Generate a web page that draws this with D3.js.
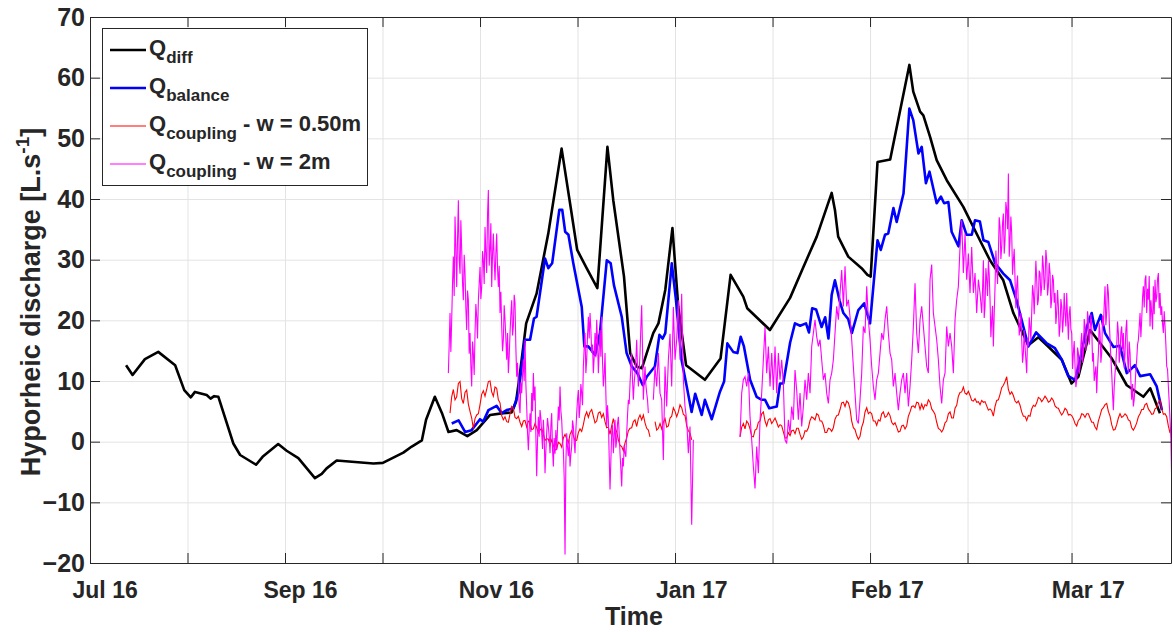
<!DOCTYPE html>
<html lang="en">
<head>
<meta charset="utf-8">
<title>Hyporheic discharge</title>
<script src="https://d3js.org/d3.v7.min.js"></script>
<style>
body { margin: 0; background: #fff; }
svg text { font-family: "Liberation Sans", Arial, sans-serif; font-weight: bold; fill: #262626; }
.grid line { stroke: #e3e3e3; stroke-width: 1; }
.axis path, .axis line { stroke: #262626; stroke-width: 1; }
</style>
</head>
<body>
<div id="chart"></div>
<script>
// time axis: days after the first (Jul 16) tick
var xTicks = [0, 30, 60, 90, 120, 150, 180, 210, 240, 270, 302];
var xLabelAt = [4.5, 64.6, 124.9, 185, 245.2, 307];
var xLabels = ["Jul 16", "Sep 16", "Nov 16", "Jan 17", "Feb 17", "Mar 17"];
var yTicks = [-20, -10, 0, 10, 20, 30, 40, 50, 60, 70];

// Q_diff  (time, value)
var qDiffT = [11.1,13.1,16.9,21.0,26.2,29.0,31.0,32.3,35.9,37.1,38.2,39.5,44.1,46.2,51.1,53.1,57.9,60.5,64.1,69.2,
  71.3,72.8,75.9,87.2,90.1,96.4,99.0,102.1,103.4,106.1,108.3,110.3,112.8,116.1,119.0,123.1,127.2,129.7,131.1,132.3,
  134.2,137.4,141.0,145.1,147.7,149.9,152.8,156.1,159.2,161.0,164.3,166.2,168.2,169.8,171.3,173.3,174.9,177.0,179.2,181.0,
  183.4,189.2,194.0,197.1,201.0,202.2,209.2,215.4,219.5,223.6,228.2,229.2,230.2,233.3,237.4,239.2,240.2,242.3,246.2,252.1,
  253.3,255.4,256.4,258.5,260.5,263.6,268.7,273.8,276.9,281.0,284.1,288.7,291.8,294.4,299.0,302.0,304.1,307.7,314.4,319.0,
  324.1,326.2,329.2];
var qDiffV = [12.6,11.0,13.6,14.8,12.6,8.5,7.3,8.2,7.7,7.1,7.5,7.4,-0.3,-2.2,-3.8,-2.5,-0.4,-1.5,-2.7,-6.0,
  -5.3,-4.4,-3.1,-3.6,-3.5,-1.8,-0.8,0.2,3.6,7.4,4.7,1.6,1.9,0.9,1.9,4.4,4.7,4.8,6.6,11.3,
  19.5,24.4,34.3,48.3,39.3,31.6,28.6,25.3,48.6,39.8,27.2,14.6,12.4,12.1,14.6,17.9,19.5,25.0,35.2,22.2,
  12.6,10.2,13.7,27.5,23.9,22.0,18.4,23.7,28.8,33.8,41.0,38.2,33.8,30.5,28.6,27.5,27.2,46.1,46.5,62.1,
  57.7,54.4,53.8,50.2,46.4,43.1,38.7,33.2,29.9,26.6,21.2,15.9,17.2,15.9,13.5,9.6,10.7,18.4,13.7,9.3,
  7.4,8.8,4.7];

// Q_balance (time, value)
var qBalT = [111.3,113.4,115.4,117.4,120.0,121.0,122.6,125.1,126.7,128.2,130.3,131.8,133.8,135.4,136.6,137.4,140.0,141.0,142.2,144.4,
  145.3,146.2,147.2,148.7,151.3,152.1,153.3,155.4,156.9,159.0,160.2,161.2,163.6,165.1,166.7,168.4,170.1,171.3,173.8,175.2,
  176.2,177.0,179.0,180.3,182.0,183.6,185.1,186.2,188.2,189.2,191.3,193.8,195.1,196.1,197.9,199.2,200.2,201.2,203.1,205.1,
  206.7,207.7,209.0,211.3,212.3,213.3,215.4,216.9,218.5,220.3,221.2,222.2,223.4,225.1,226.2,227.2,228.2,229.2,230.6,231.8,
  233.3,234.4,236.4,238.2,240.0,242.3,243.3,244.6,245.6,247.2,248.2,250.3,252.1,253.3,254.9,255.9,257.2,258.3,260.5,261.8,
  262.8,264.1,265.1,267.2,268.2,269.7,271.3,272.3,273.8,274.9,276.4,278.5,281.0,283.1,285.1,287.2,288.7,291.1,294.4,296.9,
  299.0,301.0,303.1,304.6,306.7,308.2,309.2,311.0,312.3,314.9,316.9,319.0,321.5,323.1,326.2,328.2,329.8];
var qBalV = [3.0,3.5,1.6,1.9,3.7,3.3,5.2,5.9,4.7,5.2,5.5,8.0,16.8,16.8,20.3,20.6,30.2,28.6,29.4,38.2,
  38.2,34.6,34.1,29.4,22.2,15.7,15.7,14.3,17.9,29.9,29.4,25.8,20.6,14.6,12.4,11.3,9.3,10.7,12.4,17.6,
  17.0,17.9,29.4,23.3,13.5,9.1,4.9,7.9,4.4,6.9,3.7,8.2,9.9,16.2,14.8,14.6,17.3,15.7,10.2,7.4,
  6.9,6.9,5.5,5.8,9.6,9.6,16.3,19.5,19.1,19.5,18.0,22.0,21.8,18.9,20.5,17.0,24.2,26.6,23.3,21.2,
  20.2,17.9,21.7,22.8,19.5,33.2,31.6,34.1,34.3,38.5,36.2,40.9,54.9,53.0,47.5,48.6,42.6,44.5,39.3,40.4,
  39.3,39.5,34.6,32.2,36.5,34.1,34.1,36.5,36.3,33.2,32.9,29.4,27.7,26.6,23.3,18.9,15.7,18.0,16.2,15.4,
  13.5,10.8,10.2,13.5,18.9,21.2,18.4,20.9,17.9,15.6,15.8,11.3,12.6,10.8,11.1,9.1,5.2];

// Q_coupling, w = 0.50 m : three logged runs, sampled every ~0.51 day
var redStep = 0.5128;
var redStart = [110.77, 173.85, 200.0];
var redA = [4.7,7.4,8.6,6.9,7.4,9.6,9.9,7.1,6.3,8.1, 8.5,6.2,5.0,3.9,2.2,3.8,4.4,4.6,6.1,7.8,
  8.4,7.5,8.6,9.9,10.0,8.2,7.5,9.0,8.8,6.9, 6.4,4.3,3.6,4.1,3.3,3.2,4.6,5.8,5.5,4.0,
  3.8,4.2,3.2,2.5,3.4,3.5,2.4,3.4,3.2,2.0, 2.1,3.0,2.3,1.4,1.9,2.2,1.2,0.2,0.5,0.4,
  -0.6,0.3,-0.6,-1.4,-1.2,-0.1,-0.3,-0.9,0.6,1.2, 0.5,-0.2,1.2,1.8,1.0,0.1,0.2,1.5,2.1,1.7,
  2.8,4.2,4.9,4.0,4.9,5.3,4.2,3.1,3.4,4.7, 4.9,4.0,4.6,3.3,2.3,2.4,1.2,2.6,3.8,2.4,
  1.6,0.3,-0.6,-0.8,-1.5,-0.2,0.6,1.8,2.2,2.3, 3.3,3.6,2.5,3.8,4.4,3.6,4.4,3.1,2.2,1.9, 0.8];
var redB = [3.3,1.9,2.2,3.0,2.1,3.2,3.8,2.4,2.6,3.9,4.2,5.6,5.0,4.1,4.9,6.1,5.6,4.5,4.3,2.6,1.8,1.4,0.3];
var redC = [0.8,2.4,3.0,2.1,3.4,3.0,2.1,0.9,0.8,1.9, 2.1,3.2,3.4,4.6,4.9,3.4,2.6,3.6,3.8,3.0,
  3.4,3.9,3.2,2.4,2.8,2.6,1.6,0.6,0.6,1.5, 1.0,1.8,1.9,1.3,2.2,2.2,1.2,0.4,0.8,1.8,
  1.7,2.3,3.5,4.1,3.9,3.6,4.6,4.4,3.4,3.4, 2.7,1.5,1.5,2.2,2.1,1.7,2.3,3.7,4.3,4.4,
  5.3,6.4,6.5,5.8,6.7,6.4,5.4,3.4,2.3,2.0, 1.0,0.4,0.9,2.4,3.2,4.9,5.6,4.6,4.9,4.6,
  3.4,3.4,2.7,3.6,3.4,4.6,4.9,4.0,4.2,4.8, 4.3,3.2,2.8,3.1,2.4,1.6,1.7,2.6,2.7,2.1,
  2.6,4.2,4.9,5.8,5.9,5.6,6.5,6.4,5.3,6.2, 5.4,6.1,5.9,6.9,6.5,5.4,5.0,4.5,3.2,2.2,
  2.0,1.6,2.1,3.1,3.4,4.6,4.9,3.9,3.9,5.5, 6.0,7.5,8.1,8.2,9.0,8.0,7.8,8.3,7.6,6.8,
  6.7,7.1,6.5,6.6,6.1,6.8,
  6.5,6.6,5.9,5.2,5.4,5.1,4.2,5.8,6.8,6.9, 7.8,8.9,9.3,9.9,10.7,8.6,7.8,8.2,7.6,6.7,
  6.4,6.7,6.0,4.9,4.2,4.2,3.5,4.3,4.2,5.4, 6.0,5.8,6.4,7.3,7.1,6.6,7.0,7.5,7.1,6.5,
  6.7,7.2,6.8,5.9,5.6,5.5,4.9,4.4,4.8,5.5, 5.2,4.4,4.5,4.3,3.8,3.0,2.6,3.5,3.8,4.6,
  4.5,4.0,4.6,4.6,3.9,3.2,3.2,2.4,2.0,3.4, 4.3,5.3,5.6,6.1,6.3,5.0,4.2,2.8,1.9,2.0,
  2.8,3.9,4.6,4.0,4.2,4.6,4.3,3.6,3.4,2.3, 1.9,2.4,3.1,4.1,4.6,5.3,5.3,6.1,6.3,5.4,
  5.0,4.5,4.6,5.4,5.6,6.5,6.8,5.5,4.5,4.6, 4.1,2.6,1.4];

// Q_coupling, w = 2 m : logged runs (start day, sampling step in days)
var pinkStart = [110.26, 173.33, 200.0, 274.36];
var pinkStep = [0.2564, 0.5128, 0.5128, 0.2564];
var pinkA = [11.3,16.0,21.2,14.8,20.0,26.1,30.5,24.0,37.1,32.0, 25.5,33.4,39.8,30.0,27.7,36.5,31.6,26.1,23.3,30.8,
  27.8,22.0,18.4,24.9,23.3,14.5,17.9,12.5,9.1,16.5, 14.6,11.0,17.9,22.7,20.6,17.0,23.3,26.1,28.8,23.5,
  25.5,31.4,29.9,26.0,35.4,31.0,27.8,37.4,41.5,29.0, 31.6,36.0,25.5,30.8,34.3,29.9,26.6,31.0,34.3,28.6,
  25.5,29.0,21.2,24.7,19.0,14.9,16.8,22.5,20.1,17.0, 13.5,17.9,11.3,14.0,17.9,21.0,23.3,17.5,19.0,24.2,
  22.8,15.5,10.7,13.0,9.1,6.0,4.7,9.8,8.0,11.0, 13.5,10.0,16.8,9.5,5.8,1.5,-1.4,2.0,4.7,1.6,
  8.0,5.0,11.3,6.8,9.1,1.0,-5.7,0.2,4.1,0.8, 5.2,3.9,1.4,-1.2,3.6,0.9,-5.2,-1.5,1.4,3.9,
  2.5,0.8,-1.9,2.6,4.7,-1.3,-4.1,0.6,-2.0,1.9, -1.4,2.2,5.8,3.5,9.1,5.1,3.6,0.3,-1.4,-6.0,
  -18.6,-3.5,1.4,-1.0,-2.4,0.4,-4.1,-2.1,-0.8,3.5, 2.5,-0.1,-1.9,1.8,4.7,7.0,8.5,3.9,5.8,9.5,
  8.0,6.0,12.4,15.5,17.9,11.3,13.5,17.5,20.6,17.0, 21.2,18.5,14.6,16.0,11.3,14.0,17.9,13.9,20.1,16.5,
  11.3,15.0,18.4,14.0,20.6,13.1,9.1,11.0,14.6,8.0, 2.5,6.0,3.6,-2.5,-7.9,-3.2,1.4,2.8,-1.9,0.9,
  3.6,-1.0,0.3,3.0,4.1,1.3,-1.9,-4.5,-7.4,-2.7, -4.1,-0.6,-1.9,-2.5,1.4,4.4,6.9,6.2,9.6,12.3,
  14.6,10.1,6.9,9.8,11.3,13.5,16.8,12.0,9.1,11.7, 14.6,18.9,22.5,15.3,6.9,10.0,12.4,9.4,8.0,6.9, 4.7];
var pinkB = [6.9,12.4,9.1,14.6,8.0,6.9,-3.0,12.4,5.8,13.5,17.8,9.1,22.2,13.5,16.8,23.3,13.5,24.4,10.2,5.8,3.6,-1.9,2.5,-13.7,0.3];
var pinkC = [0.8,8.0,10.2,10.7,9.1,11.3,4.1,0.3,-4.1,-7.7,-0.8,-5.2,3.6,8.0,13.5,18.9,11.3,15.7,9.1,14.6,
  8.5,15.7,8.0,14.6,10.2,13.5,9.6,0.3,-0.3,3.6,1.4,
  5.8,3.6,11.8,8.5,3.6,8.0,2.5,5.8,10.2,6.9, 11.3,8.0,15.7,17.9,20.1,17.3,15.7,16.8,13.5,10.2,
  11.3,8.0,6.3,10.2,11.3,13.5,17.9,22.3,20.1,24.5, 28.3,22.3,28.9,22.3,23.4,20.6,16.8,12.4,8.0,3.6,
  3.0,6.9,11.3,19.0,17.9,25.6,20.1,16.8,12.4,9.1, 6.9,10.2,11.3,14.6,17.9,16.8,20.1,22.3,17.9,14.6,
  13.5,9.1,11.3,8.0,5.2,8.0,10.2,11.3,8.0,11.3, 5.8,9.1,13.5,19.0,26.1,17.9,14.6,20.1,22.3,19.0,
  15.7,12.4,11.3,26.7,29.2,21.2,19.0,16.8,13.5,9.1, 6.3,10.2,11.3,19.0,15.7,17.9,15.7,11.3,20.1,23.4,
  25.6,32.1,36.5,27.8,34.3,26.7,31.0,24.5,32.1,24.5, 27.8,21.2,26.7,24.5];
var pinkD = [21.2,25.0,29.9,20.4,22.3,28.6,26.7,24.0,29.9,27.5, 23.4,17.2,20.1,22.4,15.7,21.0,25.6,31.5,28.9,26.0,
  31.0,37.0,35.4,30.1,32.1,36.0,37.6,31.0,33.2,39.5, 38.2,35.0,44.2,30.5,33.2,37.1,34.3,27.5,29.9,31.8,
  26.7,22.0,25.6,27.4,22.3,17.5,19.0,21.2,16.8,13.0, 14.6,18.4,15.7,13.5,11.3,17.0,15.7,20.5,19.0,16.8,
  21.2,25.8,24.5,21.0,25.6,29.8,26.7,22.5,23.4,28.2, 27.8,24.0,25.6,30.7,28.9,25.0,26.7,31.6,29.9,24.1,
  25.6,29.5,27.8,22.0,23.4,27.5,26.7,22.9,24.5,19.4, 21.2,25.0,22.3,17.3,19.0,23.5,22.3,18.0,20.1,24.5,
  21.2,19.0,24.5,20.5,16.8,21.0,22.3,18.5,17.9,12.0, 14.6,16.6,12.4,9.0,10.2,15.5,14.6,11.2,12.4,16.1,
  17.9,13.0,14.6,20.2,19.0,15.0,16.8,21.5,20.1,16.0, 17.9,21.0,19.0,13.2,14.6,10.0,11.3,12.4,8.0,12.0,
  14.6,19.5,17.9,13.0,14.6,20.8,19.0,22.5,25.6,19.2, 21.2,26.0,24.5,20.1,16.8,13.8,11.3,8.0,5.2,9.0,
  11.3,13.0,15.7,19.8,17.9,13.0,14.6,18.0,19.0,15.2, 17.9,12.1,14.6,18.4,20.1,14.0,11.3,16.5,14.6,10.0,
  6.9,9.5,5.8,7.0,9.1,11.8,13.5,16.0,16.8,18.9, 21.2,17.2,20.1,23.8,25.6,22.1,26.7,27.4,21.2,25.2,
  23.4,27.3,19.0,23.3,21.2,18.5,25.6,21.0,26.7,23.0, 23.9,26.8,27.8,22.0,24.5,20.9,22.3,19.4,17.9,21.5,
  19.0,16.0,12.4,11.9,9.1,6.5,3.6,0.5,-6.8,-7.5, -8.8];

var W = 1173, H = 632;
var margin = {top: 17, right: 2, bottom: 69, left: 90},
    width = W - margin.left - margin.right,
    height = H - margin.top - margin.bottom;

var root = d3.select("#chart").append("svg")
    .attr("width", W)
    .attr("height", H);

var svg = root.append("g")
    .attr("transform", "translate(" + margin.left + "," + margin.top + ")");

var x = d3.scaleLinear().domain([0, 332.6]).range([0, width]);
var y = d3.scaleLinear().domain([-20, 70]).range([height, 0]);

// grid
svg.append("g").attr("class", "grid")
  .attr("transform", "translate(0," + height + ")")
  .call(d3.axisBottom(x).tickValues(xTicks).tickSize(-height).tickFormat(""))
  .call(function(g) { g.select(".domain").remove(); });
svg.append("g").attr("class", "grid")
  .call(d3.axisLeft(y).tickValues(yTicks).tickSize(-width).tickFormat(""))
  .call(function(g) { g.select(".domain").remove(); });

// series
svg.append("clipPath").attr("id", "clip")
  .append("rect").attr("width", width).attr("height", height);
var plot = svg.append("g").attr("clip-path", "url(#clip)");

var line = d3.line()
    .x(function(d) { return x(d[0]); })
    .y(function(d) { return y(d[1]); });

function pairs(ts, vs) { return ts.map(function(t, i) { return [t, vs[i]]; }); }
function sampled(t0, step, vs) { return vs.map(function(v, i) { return [t0 + i * step, v]; }); }

plot.append("path").datum(pairs(qDiffT, qDiffV))
  .attr("d", line).attr("fill", "none").attr("stroke", "#000").attr("stroke-width", 2.6)
  .attr("stroke-linejoin", "round");
plot.append("path").datum(pairs(qBalT, qBalV))
  .attr("d", line).attr("fill", "none").attr("stroke", "#0000ff").attr("stroke-width", 2.6)
  .attr("stroke-linejoin", "round");

[redA, redB, redC].forEach(function(vs, k) {
  plot.append("path").datum(sampled(redStart[k], redStep, vs))
    .attr("d", line).attr("fill", "none").attr("stroke", "#ff0000").attr("stroke-width", 1.1);
});
[pinkA, pinkB, pinkC, pinkD].forEach(function(vs, k) {
  var pts = sampled(pinkStart[k], pinkStep[k], vs);
  if (k === 3) pts.unshift([pinkStart[2] + (pinkC.length - 1) * pinkStep[2], pinkC[pinkC.length - 1]]);
  plot.append("path").datum(pts)
    .attr("d", line).attr("fill", "none").attr("stroke", "#ff00ff").attr("stroke-width", 1.1);
});

// axes (box with inward ticks)
svg.append("g").attr("class", "axis")
  .attr("transform", "translate(0," + height + ")")
  .call(d3.axisBottom(x).tickValues(xTicks).tickSizeInner(-10).tickSizeOuter(0).tickFormat(""));
svg.append("g").attr("class", "axis")
  .call(d3.axisTop(x).tickValues(xTicks).tickSizeInner(-10).tickSizeOuter(0).tickFormat(""));
svg.append("g").attr("class", "axis")
  .attr("transform", "translate(" + width + ",0)")
  .call(d3.axisRight(y).tickValues(yTicks).tickSizeInner(-10).tickSizeOuter(0).tickFormat(""));
svg.append("g").attr("class", "axis")
  .call(d3.axisLeft(y).tickValues(yTicks).tickSizeInner(-10).tickSizeOuter(0).tickPadding(5)
    .tickFormat(d3.format("d")))
  .selectAll("text").style("font-size", "25px");

// x tick labels
svg.append("g")
  .attr("transform", "translate(0," + height + ")")
  .call(d3.axisBottom(x).tickValues(xLabelAt).tickSize(0).tickPadding(19)
    .tickFormat(function(d, i) { return xLabels[i]; }))
  .call(function(g) { g.select(".domain").remove(); })
  .selectAll("text").style("font-size", "23px");

// axis titles
root.append("text")
  .attr("x", 634).attr("y", 625)
  .attr("text-anchor", "middle")
  .style("font-size", "25px")
  .text("Time");

var yl = root.append("text")
  .attr("transform", "translate(40,302) rotate(-90)")
  .attr("text-anchor", "middle")
  .style("font-size", "27px");
yl.append("tspan").text("Hyporheic discharge [L.s");
yl.append("tspan").attr("dy", -11).style("font-size", "19px").text("-1");
yl.append("tspan").attr("dy", 11).text("]");

// legend
var legendItems = [
  {name: "Q", sub: "diff", tail: "", color: "#000", w: 2.6},
  {name: "Q", sub: "balance", tail: "", color: "#0000ff", w: 2.6},
  {name: "Q", sub: "coupling", tail: " - w = 0.50m", color: "#ff0000", w: 1.1},
  {name: "Q", sub: "coupling", tail: " - w = 2m", color: "#ff00ff", w: 1.1}
];
var lg = root.append("g");
lg.append("rect")
  .attr("x", 102.5).attr("y", 28.5).attr("width", 265).attr("height", 157)
  .attr("fill", "#fff").attr("stroke", "#262626").attr("stroke-width", 1);
legendItems.forEach(function(d, i) {
  var cy = 50 + i * 38;
  lg.append("line").attr("x1", 110).attr("x2", 146).attr("y1", cy).attr("y2", cy)
    .attr("stroke", d.color).attr("stroke-width", d.w);
  var t = lg.append("text").attr("x", 149).attr("y", cy + 5).style("font-size", "22px");
  t.append("tspan").text(d.name);
  t.append("tspan").attr("dy", 8).style("font-size", "17px").text(d.sub);
  if (d.tail) t.append("tspan").attr("dy", -8).text(d.tail);
});
</script>
</body>
</html>
